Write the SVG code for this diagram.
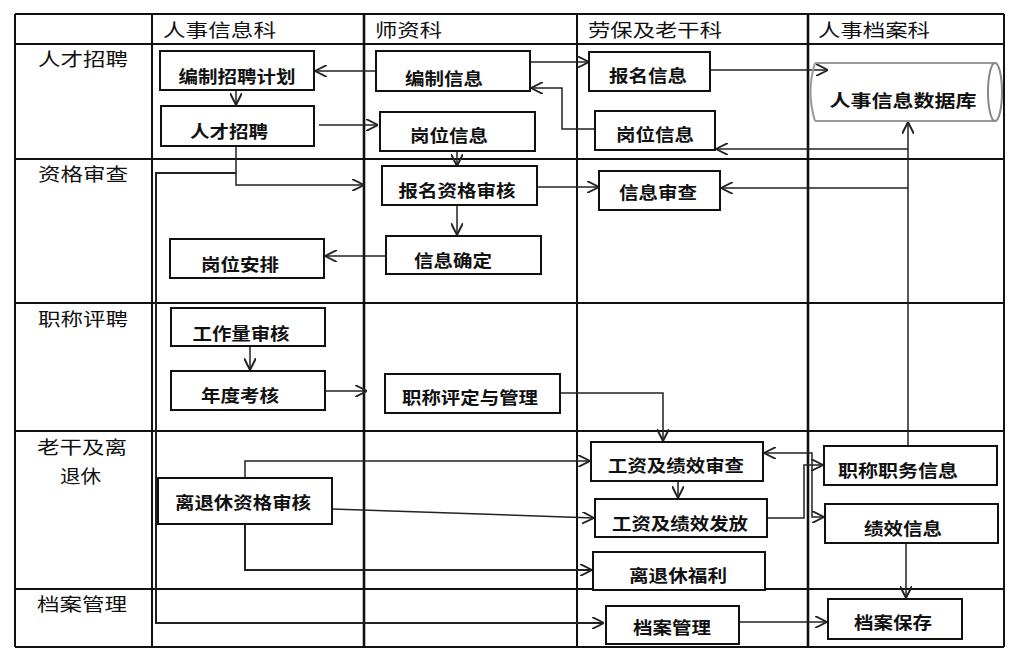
<svg xmlns="http://www.w3.org/2000/svg" width="1018" height="672" viewBox="0 0 1018 672">
<style>
.grid{stroke:#111;stroke-width:2;fill:none}
.gridb{stroke:#111;stroke-width:2.6;fill:none}
.box{fill:#fff;stroke:#111;stroke-width:2}
.t{font-family:"Noto Sans CJK SC","Noto Sans",sans-serif;font-size:17px;font-weight:bold;fill:#111;text-anchor:middle}
.h{font-family:"Noto Sans CJK SC","Noto Sans",sans-serif;font-size:18px;fill:#111}
.c{fill:none;stroke:#222;stroke-width:1.5}
</style>
<defs>
<marker id="a" viewBox="0 0 10 10" refX="10" refY="5" markerWidth="12" markerHeight="12" markerUnits="userSpaceOnUse" orient="auto-start-reverse">
<path d="M0,0 L10,5 L0,10" fill="none" stroke="#222" stroke-width="1.6"/>
</marker>
</defs>
<rect width="1018" height="672" fill="#fff"/>
<g id="grid">
<path class="grid" d="M15,14 H1004 M15,44 H1004 M15,159 H1004 M15,303 H1004 M15,431 H1004 M15,589 H1004 M15,647 H1004"/>
<path class="grid" d="M15,14 V647 M152,14 V647 M577,14 V647 M1004,14 V647"/>
<path class="gridb" d="M364,14 V647 M808,14 V647"/>
</g>
<g id="headers">
<text class="h" x="163" y="37" textLength="113" lengthAdjust="spacingAndGlyphs">人事信息科</text>
<text class="h" x="375" y="37" textLength="67" lengthAdjust="spacingAndGlyphs">师资科</text>
<text class="h" x="588" y="37" textLength="134" lengthAdjust="spacingAndGlyphs">劳保及老干科</text>
<text class="h" x="818" y="37" textLength="112" lengthAdjust="spacingAndGlyphs">人事档案科</text>
<text class="h" x="38" y="66" textLength="90" lengthAdjust="spacingAndGlyphs">人才招聘</text>
<text class="h" x="38" y="181" textLength="90" lengthAdjust="spacingAndGlyphs">资格审查</text>
<text class="h" x="38" y="326" textLength="90" lengthAdjust="spacingAndGlyphs">职称评聘</text>
<text class="h" x="37" y="454" textLength="90" lengthAdjust="spacingAndGlyphs">老干及离</text>
<text class="h" x="60" y="483" textLength="41" lengthAdjust="spacingAndGlyphs">退休</text>
<text class="h" x="37" y="611" textLength="90" lengthAdjust="spacingAndGlyphs">档案管理</text>
</g>
<g id="connectors">
<path class="c" marker-end="url(#a)" d="M376,71 L315,71"/>
<path class="c" marker-end="url(#a)" d="M236,90 L236,105"/>
<path class="c" marker-end="url(#a)" d="M319,125 L378,125"/>
<path class="c" marker-end="url(#a)" d="M457,151 L457,166"/>
<path class="c" marker-end="url(#a)" d="M530,62 L589,62"/>
<path class="c" marker-end="url(#a)" d="M595,129 L562,129 L562,88 L531,88"/>
<path class="c" marker-end="url(#a)" d="M710,70 L828,70"/>
<path class="c" marker-end="url(#a)" d="M908,446 L908,122"/>
<path class="c" marker-end="url(#a)" d="M908,149 L716,149"/>
<path class="c" marker-end="url(#a)" d="M908,188 L721,188"/>
<path class="c" marker-end="url(#a)" d="M537,187 L599,187"/>
<path class="c" marker-end="url(#a)" d="M457,205 L457,235"/>
<path class="c" marker-end="url(#a)" d="M386,256 L325,256"/>
<path class="c" marker-end="url(#a)" d="M236,146 L236,185 L364,185"/>
<path class="c" style="stroke-width:2" marker-end="url(#a)" d="M236,173 L156,173 L156,623 L604,623"/>
<path class="c" marker-end="url(#a)" d="M250,346 L250,370"/>
<path class="c" marker-end="url(#a)" d="M325,391 L367,391"/>
<path class="c" marker-end="url(#a)" d="M560,393 L663,393 L663,441"/>
<path class="c" marker-end="url(#a)" d="M245,478 L245,461 L590,461"/>
<path class="c" marker-end="url(#a)" d="M332,509 L594,518"/>
<path class="c" style="stroke-width:2" marker-end="url(#a)" d="M245,524 L245,570 L592,570"/>
<path class="c" marker-end="url(#a)" d="M678,481 L678,498"/>
<path class="c" marker-end="url(#a)" d="M767,518 L804,518 L804,465 L823,465"/>
<path class="c" marker-start="url(#a)" marker-end="url(#a)" d="M764,453 L812,453 L812,517 L824,517"/>
<path class="c" marker-end="url(#a)" d="M906,543 L906,598"/>
<path class="c" marker-end="url(#a)" d="M739,622 L827,622"/>
</g>
<g id="n1"><rect class="box" x="160" y="51" width="154" height="39"/><text class="t" x="237" y="83" textLength="117" lengthAdjust="spacingAndGlyphs">编制招聘计划</text></g>
<g id="n2"><rect class="box" x="161" y="106" width="153" height="40"/><text class="t" x="229" y="138" textLength="78" lengthAdjust="spacingAndGlyphs">人才招聘</text></g>
<g id="n3"><rect class="box" x="170" y="239" width="154" height="39"/><text class="t" x="240" y="271" textLength="78" lengthAdjust="spacingAndGlyphs">岗位安排</text></g>
<g id="n4"><rect class="box" x="171" y="308" width="154" height="38"/><text class="t" x="241" y="340" textLength="97" lengthAdjust="spacingAndGlyphs">工作量审核</text></g>
<g id="n5"><rect class="box" x="171" y="371" width="154" height="39"/><text class="t" x="240" y="402" textLength="78" lengthAdjust="spacingAndGlyphs">年度考核</text></g>
<g id="n6"><rect class="box" x="158" y="478" width="174" height="46"/><text class="t" x="243" y="509" textLength="136" lengthAdjust="spacingAndGlyphs">离退休资格审核</text></g>
<g id="n7"><rect class="box" x="376" y="51" width="154" height="40"/><text class="t" x="444" y="85" textLength="78" lengthAdjust="spacingAndGlyphs">编制信息</text></g>
<g id="n8"><rect class="box" x="380" y="112" width="155" height="39"/><text class="t" x="449" y="142" textLength="78" lengthAdjust="spacingAndGlyphs">岗位信息</text></g>
<g id="n9"><rect class="box" x="382" y="166" width="155" height="39"/><text class="t" x="457" y="197" textLength="117" lengthAdjust="spacingAndGlyphs">报名资格审核</text></g>
<g id="n10"><rect class="box" x="386" y="236" width="155" height="38"/><text class="t" x="453" y="267" textLength="78" lengthAdjust="spacingAndGlyphs">信息确定</text></g>
<g id="n11"><rect class="box" x="385" y="374" width="175" height="39"/><text class="t" x="470" y="404" textLength="136" lengthAdjust="spacingAndGlyphs">职称评定与管理</text></g>
<g id="n12"><rect class="box" x="589" y="52" width="121" height="39"/><text class="t" x="648" y="82" textLength="78" lengthAdjust="spacingAndGlyphs">报名信息</text></g>
<g id="n13"><rect class="box" x="595" y="111" width="120" height="39"/><text class="t" x="655" y="141" textLength="78" lengthAdjust="spacingAndGlyphs">岗位信息</text></g>
<g id="n14"><rect class="box" x="599" y="171" width="121" height="39"/><text class="t" x="658" y="199" textLength="78" lengthAdjust="spacingAndGlyphs">信息审查</text></g>
<g id="n15"><rect class="box" x="591" y="442" width="172" height="39"/><text class="t" x="676" y="472" textLength="136" lengthAdjust="spacingAndGlyphs">工资及绩效审查</text></g>
<g id="n16"><rect class="box" x="595" y="499" width="172" height="38"/><text class="t" x="680" y="530" textLength="136" lengthAdjust="spacingAndGlyphs">工资及绩效发放</text></g>
<g id="n17"><rect class="box" x="593" y="552" width="172" height="38"/><text class="t" x="678" y="582" textLength="98" lengthAdjust="spacingAndGlyphs">离退休福利</text></g>
<g id="n18"><rect class="box" x="606" y="606" width="133" height="38"/><text class="t" x="672" y="634" textLength="78" lengthAdjust="spacingAndGlyphs">档案管理</text></g>
<g id="n19">
<path d="M815,63 L995,63 M815,121 L995,121 M815,63 Q806,92 815,121" fill="none" stroke="#999" stroke-width="2"/>
<ellipse cx="995" cy="92" rx="7" ry="29" fill="#fff" stroke="#888" stroke-width="2"/>
<text class="t" x="903" y="107" textLength="147" lengthAdjust="spacingAndGlyphs">人事信息数据库</text>
</g>
<g id="n20"><rect class="box" x="824" y="446" width="173" height="39"/><text class="t" x="898" y="477" textLength="120" lengthAdjust="spacingAndGlyphs">职称职务信息</text></g>
<g id="n21"><rect class="box" x="825" y="504" width="173" height="39"/><text class="t" x="903" y="535" textLength="78" lengthAdjust="spacingAndGlyphs">绩效信息</text></g>
<g id="n22"><rect class="box" x="828" y="599" width="134" height="40"/><text class="t" x="893" y="629" textLength="78" lengthAdjust="spacingAndGlyphs">档案保存</text></g>
</svg>
